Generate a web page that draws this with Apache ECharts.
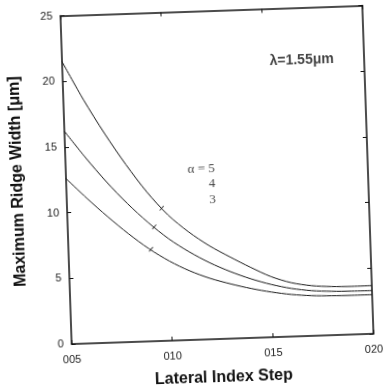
<!DOCTYPE html>
<html><head><meta charset="utf-8">
<script src="https://cdn.jsdelivr.net/npm/echarts@6/dist/echarts.min.js"></script>
<style>
html,body{margin:0;padding:0;background:#fff;overflow:hidden}
#c{width:387px;height:391px;transform:rotate(-1.95deg);transform-origin:217px 175.5px;}
</style></head><body><div id="c"></div>
<script>
// axis ticks
const xTickValues = [0.005, 0.010, 0.015, 0.020];
const xTickLabels = ['005', '010', '015', '020'];

// curves (lateral index step -> max ridge width, µm)
const stepX   = [0.005, 0.006, 0.007, 0.008, 0.009, 0.010, 0.011, 0.012, 0.013, 0.014, 0.015, 0.016, 0.017, 0.018, 0.019, 0.020];
const alpha5Y = [21.5, 18.55, 15.9, 13.5, 11.35, 9.57, 8.22, 7.12, 6.22, 5.38, 4.62, 4.1, 3.82, 3.7, 3.66, 3.67];
const alpha4Y = [16.2, 14.15, 12.25, 10.55, 9.05, 7.75, 6.7, 5.82, 5.1, 4.5, 4.02, 3.66, 3.44, 3.34, 3.3, 3.29];
const alpha3Y = [12.6, 11.05, 9.6, 8.25, 7.05, 6.05, 5.25, 4.63, 4.16, 3.76, 3.44, 3.2, 3.06, 3.0, 2.98, 2.98];

// small slash marks on the curves
const markX = [0.0097, 0.0093, 0.0091];
const markY = [10.1, 8.7, 7.0];

// annotations
const alphaLabels = ['α = 5', '4', '3'];
const alphaLabelX = [0.0124, 0.0124, 0.0124];
const alphaLabelY = [12.95, 11.8, 10.58];
const lambdaText = 'λ=1.55μm';
const lambdaX = 0.0169, lambdaY = 21.0;

const pairs = (xs, ys) => xs.map((x, i) => [x, ys[i]]);
const chart = echarts.init(document.getElementById('c'), null, {renderer: 'canvas'});

const mkLine = () => ({show: true, onZero: false, lineStyle: {color: '#111', width: 1.5}});
const mkTick = () => ({show: true, inside: true, length: 4, lineStyle: {color: '#111', width: 1}});
const xFmt = v => {
  const i = xTickValues.findIndex(t => Math.abs(t - v) < 1e-9);
  return i >= 0 ? xTickLabels[i] : '';
};

const lineSeries = (name, xs, ys) => ({
  name, type: 'line', data: pairs(xs, ys), smooth: 0.3, showSymbol: false,
  lineStyle: {color: '#1a1a1a', width: 1}, itemStyle: {color: '#1a1a1a'}, silent: true, z: 3
});

chart.setOption({
  animation: false,
  backgroundColor: '#fff',
  grid: {left: 66, top: 10.5, width: 302, height: 330, show: false},
  xAxis: [{
    type: 'value', min: 0.005, max: 0.020, interval: 0.005, position: 'bottom',
    axisLine: mkLine(), axisTick: mkTick(), splitLine: {show: false},
    axisLabel: {formatter: xFmt, fontSize: 11, color: '#222', margin: 10,
                fontFamily: 'Liberation Sans, Arial, sans-serif'},
    name: 'Lateral Index Step', nameLocation: 'middle', nameGap: 31,
    nameTextStyle: {fontSize: 16, fontWeight: 'bold', color: '#111',
                    fontFamily: 'Liberation Sans, Arial, sans-serif'}
  }, {
    type: 'value', min: 0.005, max: 0.020, interval: 0.005, position: 'top',
    axisLine: mkLine(), axisTick: mkTick(), axisLabel: {show: false}, splitLine: {show: false}
  }],
  yAxis: [{
    type: 'value', min: 0, max: 25, interval: 5, position: 'left',
    axisLine: mkLine(), axisTick: mkTick(), splitLine: {show: false},
    axisLabel: {fontSize: 11, color: '#222', margin: 8,
                fontFamily: 'Liberation Sans, Arial, sans-serif'},
    name: 'Maximum Ridge Width [μm]', nameLocation: 'middle', nameGap: 40, nameRotate: 90,
    nameTextStyle: {fontSize: 16, fontWeight: 'bold', color: '#111',
                    fontFamily: 'Liberation Sans, Arial, sans-serif'}
  }, {
    type: 'value', min: 0, max: 25, interval: 5, position: 'right',
    axisLine: mkLine(), axisTick: mkTick(), axisLabel: {show: false}, splitLine: {show: false}
  }],
  series: [
    lineSeries('α=5', stepX, alpha5Y),
    lineSeries('α=4', stepX, alpha4Y),
    lineSeries('α=3', stepX, alpha3Y),
    {
      type: 'scatter', data: pairs(markX, markY), symbol: 'rect', symbolSize: [1, 6],
      symbolRotate: -43, itemStyle: {color: '#1a1a1a'}, silent: true, z: 4
    },
    {
      type: 'scatter', symbolSize: 0, silent: true,
      data: alphaLabels.map((t, i) => ({value: [alphaLabelX[i], alphaLabelY[i]], name: t})),
      label: {show: true, position: 'inside', formatter: p => p.name, align: 'right',
              fontSize: 13, color: '#111', fontFamily: 'Liberation Serif, Times New Roman, serif'}
    },
    {
      type: 'scatter', symbolSize: 0, silent: true,
      data: [{value: [lambdaX, lambdaY], name: lambdaText}],
      label: {show: true, position: 'inside', formatter: p => p.name, align: 'center',
              fontSize: 14, fontWeight: 'bold', color: '#111',
              fontFamily: 'Liberation Sans, Arial, sans-serif'}
    }
  ]
});
</script></body></html>
